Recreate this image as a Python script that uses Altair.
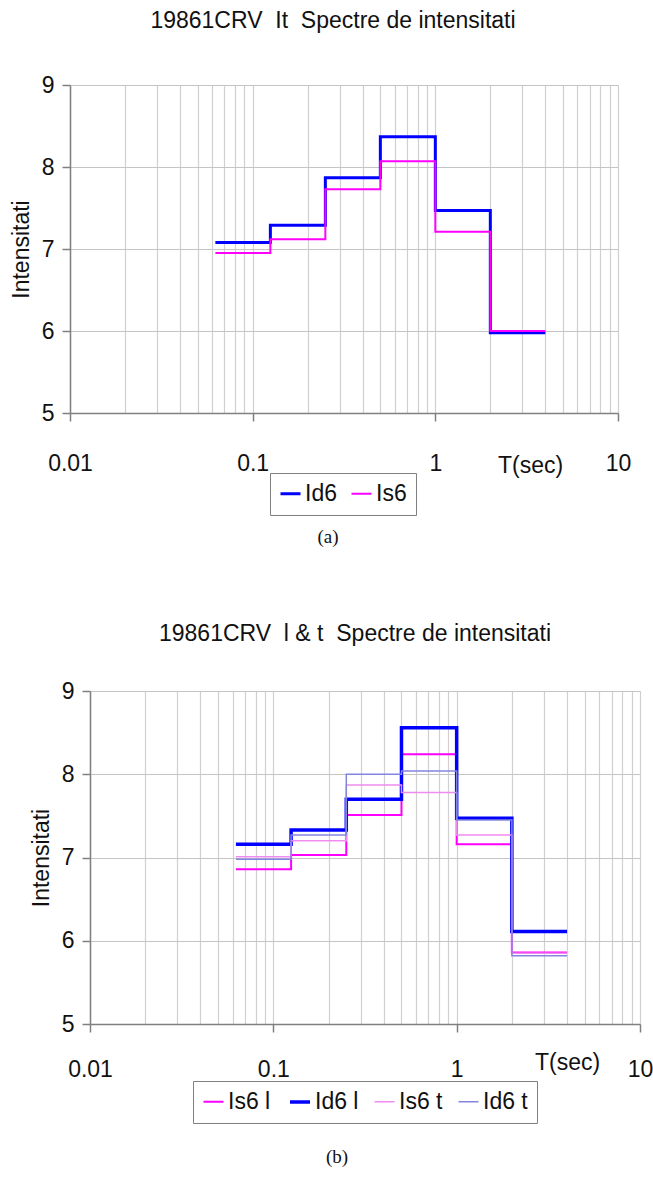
import altair as alt
import pandas as pd

FONT = "Liberation Sans"
FS = 23

# Period band edges (sec) shared by both spectra
T_EDGES = [0.0625, 0.125, 0.25, 0.5, 1, 2, 4]

# Panel (a): 19861CRV  It
A_SERIES = ["Id6", "Is6"]
A_ID6 = [7.08, 7.29, 7.87, 8.37, 7.47, 5.98]
A_IS6 = [6.95, 7.12, 7.73, 8.07, 7.21, 6.00]

# Panel (b): 19861CRV  l & t
B_SERIES = ["Is6 l", "Id6 l", "Is6 t", "Id6 t"]
B_IS6_L = [6.86, 7.03, 7.51, 8.24, 7.16, 5.86]
B_ID6_L = [7.16, 7.33, 7.70, 8.56, 7.47, 6.11]
B_IS6_T = [7.01, 7.20, 7.87, 7.78, 7.27, 5.85]
B_ID6_T = [6.98, 7.27, 8.00, 8.04, 7.45, 5.82]

# Axis tick / grid values
X_GRID = [0.01, 0.02, 0.03, 0.04, 0.05, 0.06, 0.07, 0.08, 0.09,
          0.1, 0.2, 0.3, 0.4, 0.5, 0.6, 0.7, 0.8, 0.9,
          1, 2, 3, 4, 5, 6, 7, 8, 9, 10]
Y_TICKS = [5, 6, 7, 8, 9]

MAJOR = "abs(log(datum.value)/LN10 - round(log(datum.value)/LN10)) < 0.001"
SP2 = "\u00a0\u00a0"


def step_table(names, value_lists, field):
    rows = []
    for name, vals in zip(names, value_lists):
        for i, t in enumerate(T_EDGES):
            rows.append({"T": t, "I": vals[min(i, len(vals) - 1)], field: name})
    return pd.DataFrame(rows)


def panel(df, field, names, colors, widths, title, title_dx, title_off, caption,
          w, h, inset, lab_pad, leg_x, leg_y, col_pad, tx, ty, cap_x, cap_y):
    # `inset` moves the plot rectangle right inside the panel (so the two
    # stacked panels can have different left edges)
    x = alt.X(
        "T:Q",
        scale=alt.Scale(type="log", domain=[0.01, 10], nice=False, range=[inset, w]),
        axis=alt.Axis(
            values=X_GRID, format="~g",
            labelExpr=f"({MAJOR}) ? datum.label : ''",
            tickOpacity={"condition": {"test": MAJOR, "value": 1}, "value": 0},
            tickSize=8, tickColor="#808080", tickWidth=1.5,
            labelPadding=lab_pad, labelFontSize=FS, labelFont=FONT, labelColor="#111",
            labelFlush=False, labelOverlap=False,
            domainColor="#808080", domainWidth=1.5,
            grid=True, gridColor="#d0d0d0", gridWidth=1.2,
            title="T(sec)", titleX=tx, titleY=ty, titleAlign="center",
            titleBaseline="middle", titleFontSize=FS, titleFont=FONT,
            titleFontWeight="normal", titleColor="#111",
        ),
    )
    y = alt.Y(
        "I:Q",
        scale=alt.Scale(domain=[5, 9], nice=False),
        axis=alt.Axis(
            values=Y_TICKS, tickSize=8, tickColor="#808080", tickWidth=1.5,
            labelPadding=8, labelFontSize=FS, labelFont=FONT, labelColor="#111",
            labelFlush=False, offset=-inset,
            domainColor="#808080", domainWidth=1.5,
            grid=True, gridColor="#c4c4c4", gridWidth=1.2,
            title="Intensitati", titleFontSize=FS, titleFont=FONT,
            titleFontWeight="normal", titleColor="#111", titlePadding=8,
        ),
    )
    leg = alt.Legend(
        title=None, orient="none", legendX=leg_x, legendY=leg_y,
        direction="horizontal", symbolType="stroke", symbolSize=400,
        labelFontSize=FS, labelFont=FONT, labelColor="#111",
        columnPadding=col_pad, labelOffset=3,
        padding=9, strokeColor="#808080", fillColor="white",
    )
    lines = alt.Chart(df).mark_line(interpolate="step-after").encode(
        x=x, y=y,
        color=alt.Color(f"{field}:N", scale=alt.Scale(domain=names, range=colors), legend=leg),
        strokeWidth=alt.StrokeWidth(
            f"{field}:N", scale=alt.Scale(type="ordinal", domain=names, range=widths), legend=leg
        ),
    )
    cap = alt.Chart(pd.DataFrame({"c": [caption]})).mark_text(
        font="Liberation Serif", fontSize=19, color="#111"
    ).encode(text="c:N", x=alt.value(cap_x), y=alt.value(cap_y))
    return alt.layer(lines, cap).properties(
        width=w, height=h,
        title=alt.Title(title, fontSize=FS, font=FONT, fontWeight="normal",
                        color="#111", dx=title_dx, offset=title_off),
    )


df_a = step_table(A_SERIES, [A_ID6, A_IS6], "sa")
df_b = step_table(B_SERIES, [B_IS6_L, B_ID6_L, B_IS6_T, B_ID6_T], "sb")

top = panel(df_a, "sa", A_SERIES, ["#0000ff", "#ff00ff"], [3, 2],
            "19861CRV" + SP2 + "It" + SP2 + "Spectre de intensitati", -11, 41, "(a)",
            548, 328, 0, 31, 200, 388, 10, 460, 52, 258, 452)
bottom = panel(df_b, "sb", B_SERIES, ["#ff00ff", "#0000ff", "#f08cf0", "#8585e0"],
               [2, 3.5, 1.5, 1.5],
               "19861CRV" + SP2 + "l & t" + SP2 + "Spectre de intensitati", 0, 34, "(b)",
               570, 333, 20, 26, 123, 390, 12, 497, 38, 267, 466)

chart = alt.vconcat(top, bottom, spacing=76).resolve_scale(
    color="independent", strokeWidth="independent"
).resolve_legend(
    color="independent", strokeWidth="independent"
).properties(
    padding={"left": 10, "top": 10, "right": 0, "bottom": 0},
    background="white",
).configure_view(stroke=None)

chart.save("out.html", embed_options={"renderer": "svg", "actions": False})
